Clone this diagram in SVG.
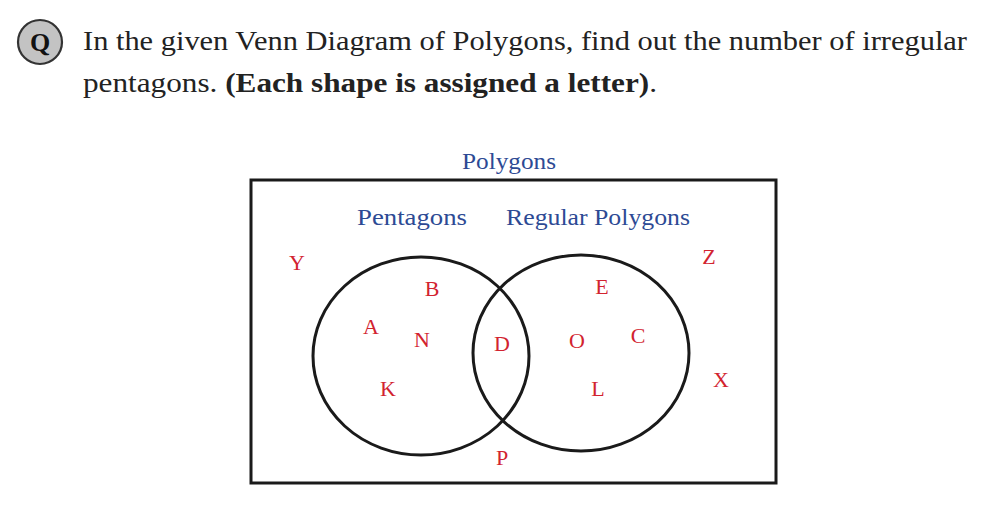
<svg xmlns="http://www.w3.org/2000/svg" width="982" height="505" viewBox="0 0 982 505">
<style>
.q{font-family:"Liberation Serif","DejaVu Serif",serif;font-size:27px;fill:#222}
.b{font-weight:bold}
.lbl{font-family:"Liberation Serif","DejaVu Serif",serif;font-size:24px;fill:#2d4a94}
.let{font-family:"Liberation Serif","DejaVu Serif",serif;font-size:22px;fill:#d2232f;text-anchor:middle}
.ln{fill:none;stroke:#1a1a1a;stroke-width:3}
</style>
<rect width="982" height="505" fill="#fff"/>
<g id="question">
<circle cx="40" cy="42" r="22" fill="#c3c3c3" stroke="#333" stroke-width="2.2"/>
<text x="40" y="51" text-anchor="middle" font-family="Liberation Serif,serif" font-weight="bold" font-size="26" fill="#111">Q</text>
<text class="q" x="83" y="50" textLength="884" lengthAdjust="spacingAndGlyphs">In the given Venn Diagram of Polygons, find out the number of irregular</text>
<text class="q" x="83" y="92" textLength="574" lengthAdjust="spacingAndGlyphs">pentagons. <tspan class="b">(Each shape is assigned a letter)</tspan>.</text>
</g>
<g id="universe">
<rect class="ln" x="251" y="180" width="525" height="303"/>
<text class="lbl" x="462" y="169" textLength="94" lengthAdjust="spacingAndGlyphs">Polygons</text>
</g>
<g id="pentagons">
<ellipse class="ln" cx="421" cy="356" rx="108" ry="99"/>
<text class="lbl" x="357" y="225" textLength="110" lengthAdjust="spacingAndGlyphs">Pentagons</text>
</g>
<g id="regular">
<ellipse class="ln" cx="581" cy="353" rx="108" ry="98"/>
<text class="lbl" x="506" y="225" textLength="184" lengthAdjust="spacingAndGlyphs">Regular Polygons</text>
</g>
<g id="letters">
<text class="let" x="297" y="270">Y</text>
<text class="let" x="709" y="264">Z</text>
<text class="let" x="432" y="296">B</text>
<text class="let" x="602" y="294">E</text>
<text class="let" x="371" y="334">A</text>
<text class="let" x="422" y="347">N</text>
<text class="let" x="502" y="351">D</text>
<text class="let" x="577" y="348">O</text>
<text class="let" x="638" y="343">C</text>
<text class="let" x="721" y="387">X</text>
<text class="let" x="388" y="396">K</text>
<text class="let" x="598" y="396">L</text>
<text class="let" x="502" y="465">P</text>
</g>
<g id="connectors"></g>
</svg>
